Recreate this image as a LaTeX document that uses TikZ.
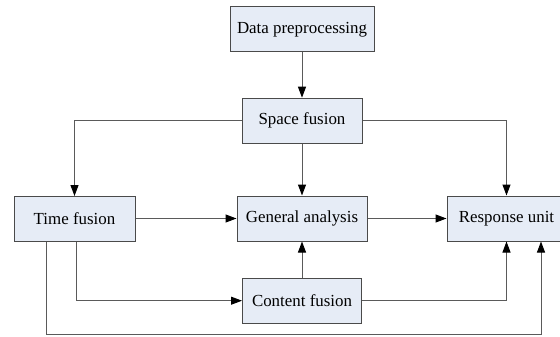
\documentclass[tikz,border=0pt]{standalone}
\usepackage{fontspec}
\setmainfont{Liberation Serif}
\usetikzlibrary{arrows.meta}
\definecolor{boxfill}{HTML}{E6ECF6}
\definecolor{boxline}{HTML}{4A4A4A}
\definecolor{connline}{HTML}{5A5A5A}
\tikzset{
  blockbox/.style={draw=boxline, fill=boxfill, line width=1pt, minimum height=45pt,
    inner sep=0pt, anchor=center, font=\fontsize{16.9}{20}\selectfont},
  conn/.style={draw=connline, line width=1pt,
    -{Triangle[length=11pt,width=8pt,fill=black,color=black]}}
}
\begin{document}
\begin{tikzpicture}[x=1pt,y=-1pt]
\useasboundingbox (0,0) rectangle (560,337);
\node[blockbox, minimum width=144pt] (dp) at (302,29.5) {Data preprocessing};
\node[blockbox, minimum width=120pt] (sf) at (302,120.7) {Space fusion};
\node[blockbox, minimum width=121pt] (tf) at (74.5,219) {Time fusion};
\node[blockbox, minimum width=130pt] (ga) at (302,218.5) {General analysis};
\node[blockbox, minimum width=119pt] (ru) at (506.5,218.5) {Response unit};
\node[blockbox, minimum width=119pt] (cf) at (302,300.7) {Content fusion};
\coordinate (c1) at (46,334.7);
\coordinate (c2) at (541,334.7);
\draw[conn] (dp.south) -- (sf.north);
\draw[conn] (sf.west) -| (tf.north);
\draw[conn] (sf.south) -- (ga.north);
\draw[conn] (sf.east) -| (ru.north);
\draw[conn] (tf.east |- ga.west) -- (ga.west);
\draw[conn] (ga.east) -- (ru.west);
\draw[conn] (cf.north) -- (ga.south);
\draw[conn] ([xshift=1.5pt]tf.south) |- (cf.west);
\draw[conn] (cf.east) -| (ru.south);
\draw[conn] (tf.south -| c1) -- (c1) -- (c2) -- (c2 |- ru.south);
\end{tikzpicture}
\end{document}
